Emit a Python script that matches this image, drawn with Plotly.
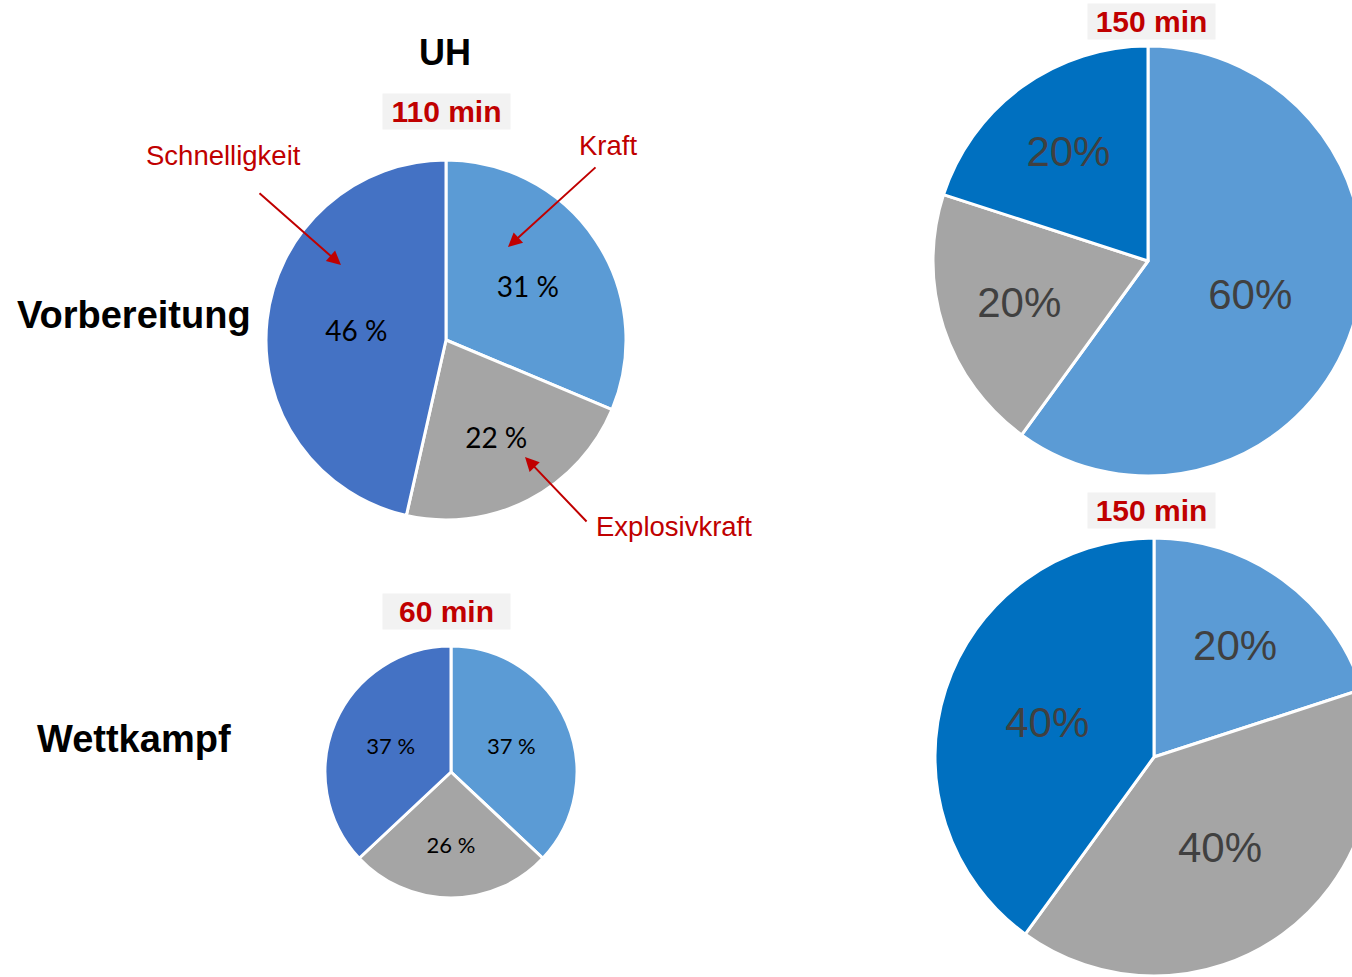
import plotly.graph_objects as go

# ---- data -------------------------------------------------------------
categories = ["Kraft", "Explosivkraft", "Schnelligkeit"]
uh_vorbereitung = [31, 22, 46]
uh_wettkampf = [37, 26, 37]
r_vorbereitung = [60, 20, 20]
r_wettkampf = [20, 40, 40]
duration_labels = ["110 min", "60 min", "150 min", "150 min"]
row_labels = ["Vorbereitung", "Wettkampf"]
column_title = "UH"

# ---- styling ----------------------------------------------------------
W, H = 1380, 977
RED = "#C00000"
LEFT_COLORS = ["#5B9BD5", "#A5A5A5", "#4472C4"]
RIGHT_COLORS = ["#5B9BD5", "#A5A5A5", "#0070C0"]
ARIAL = "Liberation Sans, Arial, sans-serif"


def px(x, y):
    """pixel position -> paper coordinates"""
    return x / W, 1 - y / H


def domain(cx, cy, r):
    return dict(x=[(cx - r) / W, (cx + r) / W],
                y=[1 - (cy + r) / H, 1 - (cy - r) / H])


def pie(values, colors, dom, template, font):
    return go.Pie(
        labels=categories, values=values, sort=False, direction="clockwise",
        rotation=0, domain=dom,
        marker=dict(colors=colors, line=dict(color="white", width=3)),
        texttemplate=template, textposition="inside",
        insidetextorientation="horizontal", insidetextfont=font,
        showlegend=False, hoverinfo="label+value",
    )


fig = go.Figure()
fig.add_trace(pie(uh_vorbereitung, LEFT_COLORS, domain(446, 340, 180), "%{value} %",
                  dict(family="Lato, Open Sans, sans-serif", size=28, color="black")))
fig.add_trace(pie(uh_wettkampf, LEFT_COLORS, domain(451, 772, 126), "%{value} %",
                  dict(family="Lato, Open Sans, sans-serif", size=22, color="black")))
fig.add_trace(pie(r_vorbereitung, RIGHT_COLORS, domain(1148, 261, 215), "%{value}%",
                  dict(family=ARIAL, size=42, color="#404040")))
fig.add_trace(pie(r_wettkampf, RIGHT_COLORS, domain(1154, 757, 219), "%{value}%",
                  dict(family=ARIAL, size=42, color="#404040")))

ann = []


def text_ann(cx, cy, text, font, **kw):
    x, y = px(cx, cy)
    d = dict(x=x, y=y, xref="paper", yref="paper", text=text, showarrow=False,
             xanchor="center", yanchor="middle", font=font)
    d.update(kw)
    ann.append(d)


# column title and row labels
text_ann(445, 52, f"<b>{column_title}</b>", dict(family=ARIAL, size=36, color="black"))
for label, (lx, ly) in zip(row_labels, [(134, 315), (134, 739)]):
    text_ann(lx, ly, f"<b>{label}</b>", dict(family=ARIAL, size=38, color="black"))

# duration boxes above each pie
for label, (bx, by) in zip(duration_labels, [(446, 112), (446, 611), (1151, 22), (1151, 510)]):
    text_ann(bx, by, f"<b>{label}</b>", dict(family=ARIAL, size=30, color=RED),
             width=127, height=35, bgcolor="#F2F2F2", borderpad=0)

# category call-outs with arrows
callouts = [
    (categories[2], (223, 155), (258, 192), (341, 265)),
    (categories[0], (608, 146), (597, 166), (508, 247)),
    (categories[1], (674, 526), (588, 523), (525, 457)),
]
for label, (tx, ty), (sx, sy), (ex, ey) in callouts:
    text_ann(tx, ty, label, dict(family=ARIAL, size=27.5, color=RED))
    x, y = px(ex, ey)
    ann.append(dict(x=x, y=y, xref="paper", yref="paper", text="", showarrow=True,
                    ax=sx - ex, ay=sy - ey,
                    arrowhead=2, arrowsize=1.4, arrowwidth=2, arrowcolor=RED))

fig.update_layout(
    width=W, height=H, margin=dict(l=0, r=0, t=0, b=0),
    paper_bgcolor="white", plot_bgcolor="white", annotations=ann,
)

fig.write_html(
    "out.html",
    config={"displayModeBar": False},
    post_script="document.documentElement.style.overflow='hidden';"
                "document.body.style.overflow='hidden';",
)
